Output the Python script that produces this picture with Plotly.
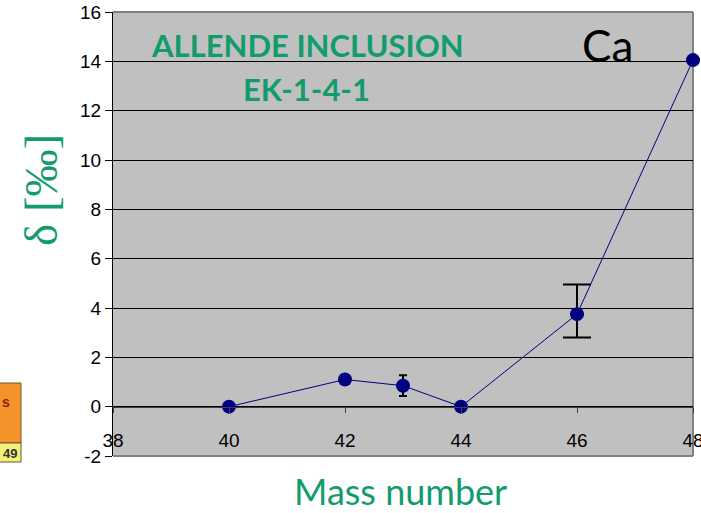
import plotly.graph_objects as go

# Data
mass = [40, 42, 43, 44, 46, 48]
delta = [0.0, 1.1, 0.85, 0.0, 3.75, 14.05]
err_plus = [None, None, 0.42, None, 1.2, None]
err_minus = [None, None, 0.42, None, 0.95, None]
cap_width = [None, None, 4, None, 14, None]

x_ticks = [38, 40, 42, 44, 46, 48]
y_ticks = [-2, 0, 2, 4, 6, 8, 10, 12, 14, 16]

GREEN = "#129C6E"
NAVY = "#000080"

W, H = 701, 513
L, R, T, B = 113, 8, 12, 57
PW, PH = W - L - R, H - T - B


def px(xp):
    return (xp - L) / PW


def py(yp):
    return (H - B - yp) / PH


fig = go.Figure()

fig.add_trace(go.Scatter(
    x=mass, y=delta, mode="lines",
    line=dict(color=NAVY, width=1), showlegend=False, hoverinfo="skip"))

for i in range(len(mass)):
    if err_plus[i] is not None:
        fig.add_trace(go.Scatter(
            x=[mass[i]], y=[delta[i]], mode="markers",
            marker=dict(color=NAVY, size=14, opacity=0),
            error_y=dict(type="data", symmetric=False,
                         array=[err_plus[i]], arrayminus=[err_minus[i]],
                         color="black", thickness=2, width=cap_width[i]),
            showlegend=False))

fig.add_trace(go.Scatter(
    x=mass, y=delta, mode="markers", cliponaxis=False,
    marker=dict(color=NAVY, size=14, line=dict(width=0)),
    showlegend=False))

fig.update_layout(
    width=W, height=H,
    margin=dict(l=L, r=R, t=T, b=B, autoexpand=False),
    paper_bgcolor="white", plot_bgcolor="#C0C0C0",
    font=dict(family="Liberation Sans, Arial", size=19, color="black"),
    xaxis=dict(range=[38, 48], tickvals=x_ticks, ticktext=[str(v) for v in x_ticks],
               anchor="free", position=2 / 18, showgrid=False, zeroline=False,
               showline=True, linecolor="#404040", linewidth=1,
               ticks="outside", ticklen=5, tickcolor="#404040",
               ticklabelstandoff=12, ticklabeloverflow="allow", automargin=False,
               tickfont=dict(family="Liberation Sans, Arial", size=19, color="black")),
    yaxis=dict(range=[-2, 16], tickvals=y_ticks, ticktext=[str(v) for v in y_ticks],
               showgrid=True, gridcolor="black", gridwidth=1, automargin=False,
               zeroline=False, showline=True, linecolor="black", linewidth=1,
               ticks="outside", ticklen=7, tickcolor="black",
               tickfont=dict(family="Liberation Sans, Arial", size=19, color="black")),
)

# plot border (gray top/right/bottom)
for x0, y0, x1, y1 in [(0, 1, 1, 1), (1, 0, 1, 1), (0, 0, 1, 0)]:
    fig.add_shape(type="line", xref="paper", yref="paper", x0=x0, y0=y0, x1=x1, y1=y1,
                  line=dict(color="#808080", width=2), layer="below")

# small periodic table fragment at bottom-left
fig.add_shape(type="rect", xref="paper", yref="paper",
              x0=px(-2), x1=px(21), y0=py(443), y1=py(383),
              fillcolor="#F5922A", line=dict(color="#6B5A2A", width=1), layer="above")
fig.add_shape(type="rect", xref="paper", yref="paper",
              x0=px(-2), x1=px(21), y0=py(462), y1=py(443),
              fillcolor="#F2F07A", line=dict(color="#6B5A2A", width=1), layer="above")

annotations = [
    dict(text="<b>ALLENDE INCLUSION</b>", x=px(307), y=py(45),
         font=dict(family="Lato, Open Sans", size=31, color=GREEN)),
    dict(text="<b>EK-1-4-1</b>", x=px(306), y=py(89),
         font=dict(family="Lato, Open Sans", size=31, color=GREEN)),
    dict(text="Ca", x=px(607), y=py(45),
         font=dict(family="Lato, Open Sans", size=44, color="black")),
    dict(text="δ [‰]", x=px(41), y=py(190), textangle=-90,
         font=dict(family="Liberation Serif, Times New Roman", size=47, color=GREEN)),
    dict(text="Mass number", x=px(400), y=py(491),
         font=dict(family="Lato, Open Sans", size=36, color=GREEN)),
    dict(text="<b>s</b>", x=px(6), y=py(402),
         font=dict(family="Liberation Sans", size=14, color="#8B1A1A")),
    dict(text="<b>49</b>", x=px(10), y=py(453),
         font=dict(family="Liberation Sans", size=13, color="#333333")),
]
for a in annotations:
    fig.add_annotation(xref="paper", yref="paper", showarrow=False,
                       xanchor="center", yanchor="middle", **a)

fig.write_html("out.html")
